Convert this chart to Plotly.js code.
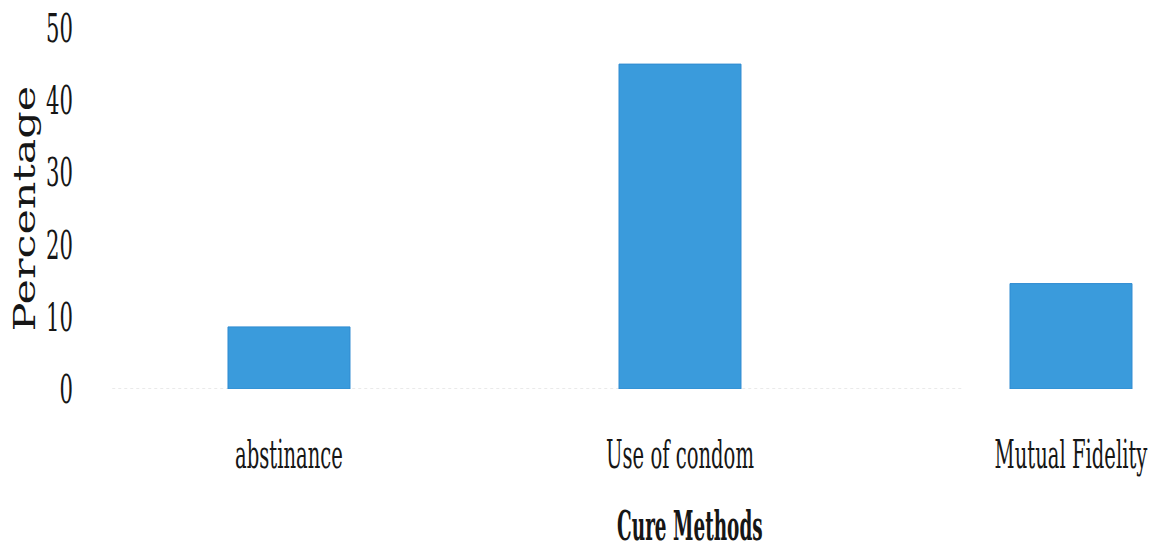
<!DOCTYPE html>
<html>
<head>
<meta charset="utf-8">
<script src="https://cdn.plot.ly/plotly-3.0.1.min.js"></script>
<style>
  html, body { margin: 0; padding: 0; background: #fff; }
  #chart { width: 1156px; height: 551px; }
</style>
</head>
<body>
<div id="chart"></div>
<script>
// Share of respondents naming each prevention method
const methods = ['abstinance', 'Use of condom', 'Mutual Fidelity'];
const percentages = [8.6, 45, 14.6];
const yTicks = [0, 10, 20, 30, 40, 50];
const yTickText = ['0', '10', '20', '30', '40', '50'];

const serif = 'DejaVu Serif, Liberation Serif, serif';

const trace = {
  type: 'bar',
  x: methods,
  y: percentages,
  marker: { color: '#3a9bdc', line: { color: '#2f8bd1', width: 1 } },
  hoverinfo: 'x+y'
};

const layout = {
  width: 1156,
  height: 551,
  margin: { l: 80, r: 0, t: 28, b: 162, pad: 0 },
  paper_bgcolor: '#ffffff',
  plot_bgcolor: '#ffffff',
  bargap: 0.688,
  showlegend: false,
  font: { family: serif, color: '#161616' },
  xaxis: {
    type: 'category',
    range: [-0.5345, 2.2174],
    showgrid: false,
    zeroline: false,
    showline: false,
    ticks: '',
    tickfont: { size: 40 },
    ticklabelstandoff: 38
  },
  yaxis: {
    range: [0, 50],
    tickvals: yTicks,
    ticktext: yTickText,
    showgrid: false,
    zeroline: false,
    showline: false,
    ticks: '',
    tickfont: { size: 40 },
    ticklabelstandoff: 6
  },
  shapes: [{
    type: 'line', xref: 'paper', x0: 0.03, x1: 0.82, yref: 'y', y0: 0, y1: 0,
    line: { color: '#d4d4d4', width: 1, dash: 'dot' }, layer: 'below'
  }],
  annotations: [{
    // x-axis title
    text: '<b>Cure Methods</b>',
    xref: 'paper', x: 0.567,
    yref: 'paper', y: 0, yanchor: 'middle', yshift: -137,
    showarrow: false,
    font: { family: serif, size: 41, color: '#161616' }
  }, {
    // y-axis title
    text: 'Percentage',
    textangle: -90,
    xref: 'paper', x: 0, xanchor: 'center', xshift: -55,
    yref: 'paper', y: 0.5, yanchor: 'middle',
    showarrow: false,
    font: { family: serif, size: 30, color: '#161616' }
  }]
};

// Scale text along its own baseline about its anchor point:
// narrows the serif labels, lengthens the rotated title.
function reshapeText(selector, factor) {
  document.querySelectorAll(selector).forEach(function (t) {
    const ax = parseFloat(t.getAttribute('x')) || 0;
    const prev = t.getAttribute('transform') || '';
    t.setAttribute('transform',
      (prev + ' translate(' + ax + ',0) scale(' + factor + ',1) translate(' + (-ax) + ',0)').trim());
  });
}

Plotly.newPlot('chart', [trace], layout, { staticPlot: true, displayModeBar: false }).then(function () {
  reshapeText('#chart .xtick text', 0.49);
  reshapeText('#chart .ytick text', 0.53);
  reshapeText('#chart .annotation[data-index="0"] .annotation-text', 0.45);
  reshapeText('#chart .annotation[data-index="1"] .annotation-text', 1.43);
});
</script>
</body>
</html>
